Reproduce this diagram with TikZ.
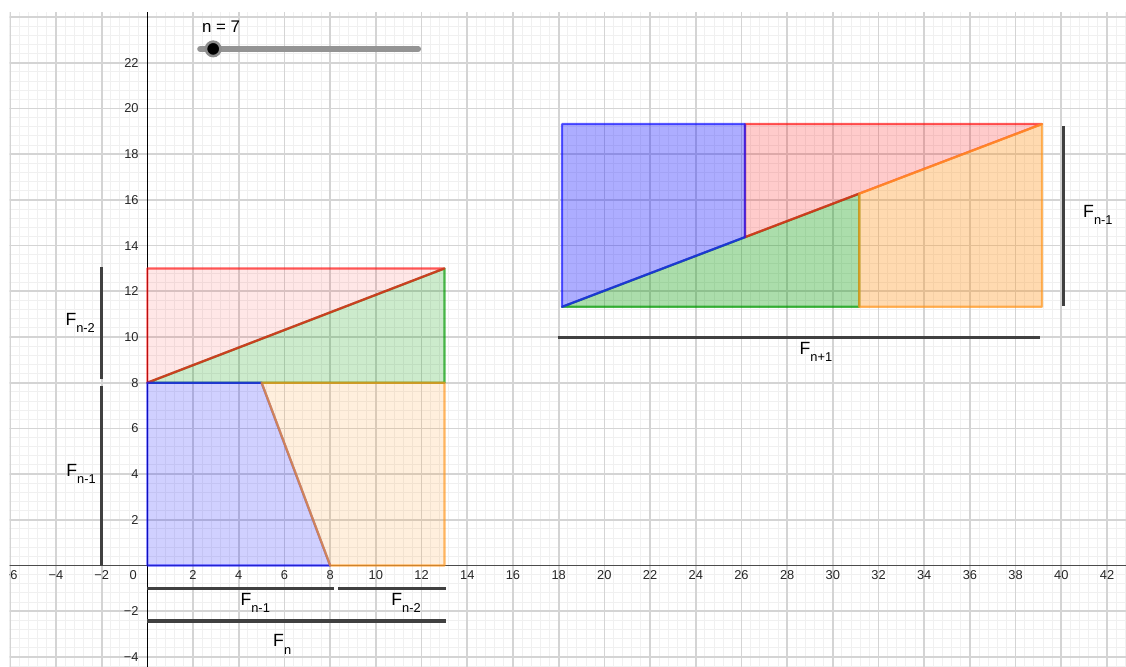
\documentclass[tikz,border=0pt]{standalone}
\usepackage{fontspec}
\setmainfont{Liberation Sans}
\usetikzlibrary{positioning,calc}
\definecolor{GgBlue}{RGB}{20,20,255}
\definecolor{GgRed}{RGB}{255,20,20}
\definecolor{GgGreen}{RGB}{0,153,0}
\definecolor{GgOrange}{RGB}{255,150,30}
\definecolor{MinorGray}{RGB}{240,240,240}
\definecolor{MajorGray}{RGB}{212,212,212}
\definecolor{BarGray}{RGB}{64,64,64}
\tikzset{
	piece/.style={draw=#1,fill=#1,draw opacity=0.7,line width=1.4pt,line join=round},
	bar/.style={draw=BarGray,line width=2pt},
	minorline/.style={draw=MinorGray,line width=0.6pt},
	majorline/.style={draw=MajorGray,line width=1.05pt},
	tick/.style={font=\fontsize{8}{9}\selectfont,text=black!85,inner sep=1pt},
	flab/.style={font=\fontsize{11}{12}\selectfont,inner sep=0pt},
	knob/.style={circle,fill=black,draw=black!45,line width=1.6pt,inner sep=0pt,minimum size=9pt},
}
\newcommand{\Fsub}[1]{F\raisebox{-4.5pt}{\fontsize{8}{9}\selectfont#1}}

\begin{document}
\begin{tikzpicture}[x=0.5cm,y=0.5cm]
	\useasboundingbox (-6.45,-4.42) rectangle (42.83,24.75);
	\begin{scope}
		\clip (-6.03,-4.42) rectangle (42.83,24.22);
		\foreach \i in {-15,...,107}
		\draw[minorline] ({\i*0.4},-4.5) -- ({\i*0.4},24.3);
		\foreach \j in {-11,...,61}
		\draw[minorline] (-6.5,{\j*0.4}) -- (43,{\j*0.4});
		\foreach \i in {-3,...,21}
		\draw[majorline] ({\i*2},-4.5) -- ({\i*2},24.3);
		\foreach \j in {-2,...,12}
		\draw[majorline] (-6.5,{\j*2}) -- (43,{\j*2});
		\draw[black!70,line width=1.1pt] (-6.5,0) -- (43,0);
		\draw[black,line width=0.7pt] (0,-4.5) -- (0,24.3);
		\foreach \x in {2,4,...,42}
		\node[tick,anchor=north] at (\x,-0.12) {\x};
		\foreach \x in {2,4,6}
		\node[tick,anchor=north] at (-\x,-0.12) {−\x};
		\node[tick,anchor=north] at (-0.62,-0.12) {0};
		\foreach \y in {2,4,...,22}
		\node[tick,anchor=east] at (-0.3,\y) {\y};
		\foreach \y in {2,4}
		\node[tick,anchor=east] at (-0.3,-\y) {−\y};
	\end{scope}

	\coordinate (o) at (0,0);
	\coordinate (p) at (8,0);
	\coordinate (q) at (13,0);
	\coordinate (r) at (5,8);
	\coordinate (s) at (0,8);
	\coordinate (t) at (13,8);
	\coordinate (u) at (0,13);
	\coordinate (w) at (13,13);
	\path[piece=GgGreen,fill opacity=0.2] (s) -- (w) -- (t) -- cycle;
	\path[piece=GgRed,fill opacity=0.1] (s) -- (u) -- (w) -- cycle;
	\path[piece=GgBlue,fill opacity=0.2] (o) -- (p) -- (r) -- (s) -- cycle;
	\path[piece=GgOrange,fill opacity=0.15] (p) -- (q) -- (t) -- (r) -- cycle;

	\begin{scope}[shift={(18.15,11.32)}]
		\coordinate (a) at (0,0);
		\coordinate (b) at (0,8);
		\coordinate (c) at (8,8);
		\coordinate (d) at (8,3.0476);
		\coordinate (e) at (13,0);
		\coordinate (f) at (13,4.9524);
		\coordinate (g) at (21,0);
		\coordinate (h) at (21,8);
		\path[piece=GgGreen,fill opacity=0.33] (a) -- (e) -- (f) -- cycle;
		\path[piece=GgRed,fill opacity=0.22] (d) -- (c) -- (h) -- cycle;
		\path[piece=GgBlue,fill opacity=0.35] (a) -- (b) -- (c) -- (d) -- cycle;
		\path[piece=GgOrange,fill opacity=0.35] (e) -- (g) -- (h) -- (f) -- cycle;
	\end{scope}

	\draw[bar] (-2,13.05) -- (-2,8.17);
	\draw[bar] (-2,7.86) -- (-2,0);
	\draw[bar] (0,-1) -- (8.17,-1);
	\draw[bar] (8.36,-1) -- (13.05,-1);
	\draw[bar] (0,-2.43) -- (13.05,-2.43);
	\draw[bar] (17.97,9.98) -- (39.07,9.98);
	\draw[bar] (40.08,19.24) -- (40.08,11.35);

	\node[flab] (lf2) at (-2.94,10.6) {\Fsub{n-2}};
	\node[flab] (lf1) at (-2.9,4.0) {\Fsub{n-1}};
	\node[flab] (bf1) at (4.72,-1.65) {\Fsub{n-1}};
	\node[flab] (bf2) at (11.32,-1.65) {\Fsub{n-2}};
	\node[flab] (bfn) at (5.9,-3.45) {\Fsub{n}};
	\node[flab] (rf1) at (29.26,9.35) {\Fsub{n+1}};
	\node[flab] (vf1) at (41.6,15.35) {\Fsub{n-1}};

	\coordinate (s0) at (2.31,22.61);
	\coordinate (s1) at (11.85,22.61);
	\draw[black!42,line width=3.7pt,line cap=round] (s0) -- (s1);
	\node[knob] (n) at (2.88,22.61) {};
	\node[anchor=west,font=\fontsize{10.5}{12}\selectfont,inner sep=0pt] (nval) at (2.38,23.58) {n = 7};
\end{tikzpicture}
\end{document}
